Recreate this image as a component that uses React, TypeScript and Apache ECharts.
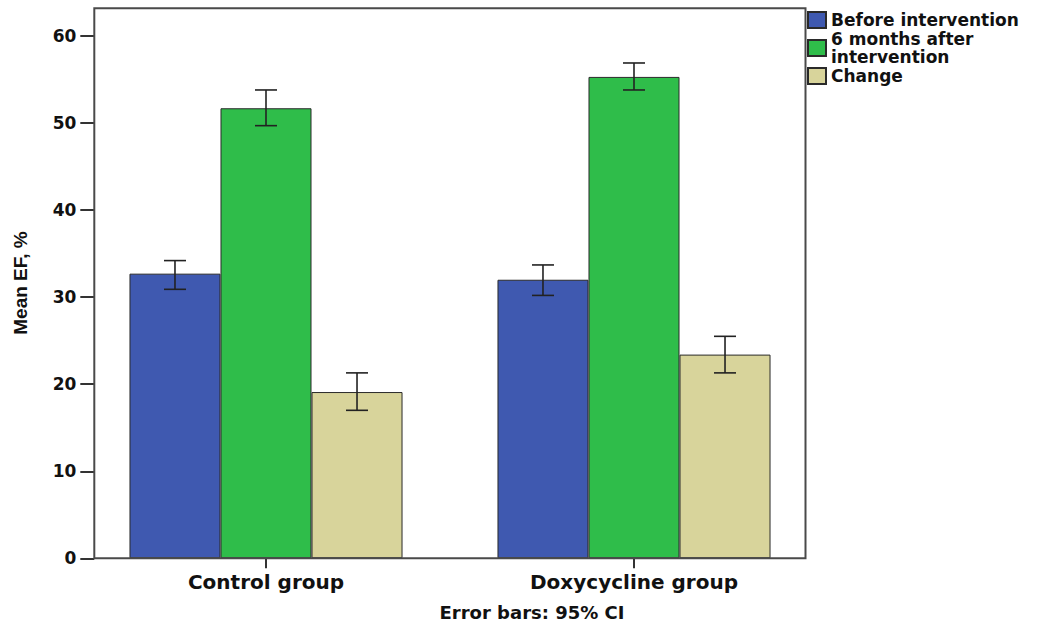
import React, { useEffect, useRef } from "react";
import * as echarts from "echarts";

const categories = ["Control group", "Doxycycline group"];
const seriesNames = ["Before intervention", "6 months after\nintervention", "Change"];
const beforeValues = [32.7, 32.0];
const afterValues = [51.7, 55.3];
const changeValues = [19.1, 23.4];
const beforeCI = [[30.9, 34.2], [30.2, 33.7]];
const afterCI = [[49.7, 53.8], [53.8, 56.9]];
const changeCI = [[17.0, 21.3], [21.3, 25.5]];
const yTicks = { min: 0, max: 60, interval: 10 };
const footnote = "Error bars: 95% CI";
const yName = "Mean EF, %";

const colors = ["#3F59B0", "#2FBD4A", "#D8D49B"];
const CAT_GAP = 0.258;
const FONT = "'DejaVu Sans', Verdana, sans-serif";

export default function App() {
  const ref = useRef<HTMLDivElement>(null);
  useEffect(() => {
    if (!ref.current) return;
    const chart = echarts.init(ref.current, null, { renderer: "svg" });
    const values = [beforeValues, afterValues, changeValues];
    const cis = [beforeCI, afterCI, changeCI];
    const errData: number[][] = [];
    cis.forEach((ci, s) => ci.forEach((r, c) => errData.push([c, s, r[0], r[1]])));

    const barSeries = seriesNames.map((name, i) => ({
      name,
      type: "bar",
      data: values[i],
      barGap: "0%",
      barCategoryGap: (CAT_GAP * 100).toFixed(1) + "%",
      itemStyle: { color: colors[i], borderColor: "#2a2a2a", borderWidth: 1 },
    }));

    chart.setOption({
      animation: false,
      backgroundColor: "#ffffff",
      grid: { left: 82, right: 236, top: 36, bottom: 67.7, containLabel: false, outerBoundsMode: "none" },
      legend: {
        orient: "vertical",
        left: 807,
        top: 11,
        padding: 0,
        itemWidth: 18,
        itemHeight: 16,
        itemGap: 1,
        icon: "rect",
        data: seriesNames,
        textStyle: { fontFamily: FONT, fontWeight: "bold", fontSize: 17, lineHeight: 18, color: "#111" },
      },
      xAxis: {
        type: "category",
        data: categories,
        axisLine: { show: false },
        axisTick: { show: true, alignWithLabel: true, length: 10, lineStyle: { color: "#333", width: 2 } },
        axisLabel: { fontFamily: FONT, fontWeight: "bold", fontSize: 20, color: "#111", margin: 14 },
      },
      yAxis: {
        type: "value",
        min: yTicks.min,
        max: yTicks.max,
        interval: yTicks.interval,
        offset: -12.3,
        axisLine: { show: false },
        axisTick: { show: true, length: 14, lineStyle: { color: "#333", width: 2 } },
        splitLine: { show: false },
        axisLabel: { fontFamily: FONT, fontWeight: "bold", fontSize: 17, color: "#111", margin: 18 },
      },
      series: [
        ...barSeries,
        {
          type: "custom",
          name: "ci",
          data: errData,
          encode: { x: 0, y: [2, 3] },
          z: 10,
          renderItem: (params: any, api: any) => {
            const cat = api.value(0);
            const s = api.value(1);
            const lo = api.coord([cat, api.value(2)]);
            const hi = api.coord([cat, api.value(3)]);
            const bw = (api.size([1, 0])[0] * (1 - CAT_GAP)) / 3;
            const x = lo[0] + (s - 1) * bw;
            const half = 11;
            const style = { stroke: "#222", lineWidth: 1.6 };
            return {
              type: "group",
              children: [
                { type: "line", shape: { x1: x, y1: lo[1], x2: x, y2: hi[1] }, style },
                { type: "line", shape: { x1: x - half, y1: lo[1], x2: x + half, y2: lo[1] }, style },
                { type: "line", shape: { x1: x - half, y1: hi[1], x2: x + half, y2: hi[1] }, style },
              ],
            };
          },
        },
      ],
      graphic: [
        {
          type: "rect",
          z: 100,
          shape: { x: 94.3, y: 8.3, width: 711.2, height: 550 },
          style: { fill: "none", stroke: "#4a4a4a", lineWidth: 2 },
        },
        {
          type: "text",
          x: 20,
          y: 283,
          rotation: Math.PI / 2,
          style: {
            text: yName,
            fontFamily: "'Liberation Sans', Arial, sans-serif",
            fontWeight: "bold",
            fontSize: 19,
            fill: "#111",
            textAlign: "center",
            textVerticalAlign: "middle",
          },
        },
        {
          type: "text",
          x: 532,
          y: 603,
          style: {
            text: footnote,
            fontFamily: FONT,
            fontWeight: "bold",
            fontSize: 18,
            fill: "#111",
            textAlign: "center",
            textVerticalAlign: "top",
          },
        },
      ],
    });
    return () => chart.dispose();
  }, []);
  return <div ref={ref} style={{ position: "fixed", left: 0, top: 0, width: 1054, height: 626 }} />;
}
